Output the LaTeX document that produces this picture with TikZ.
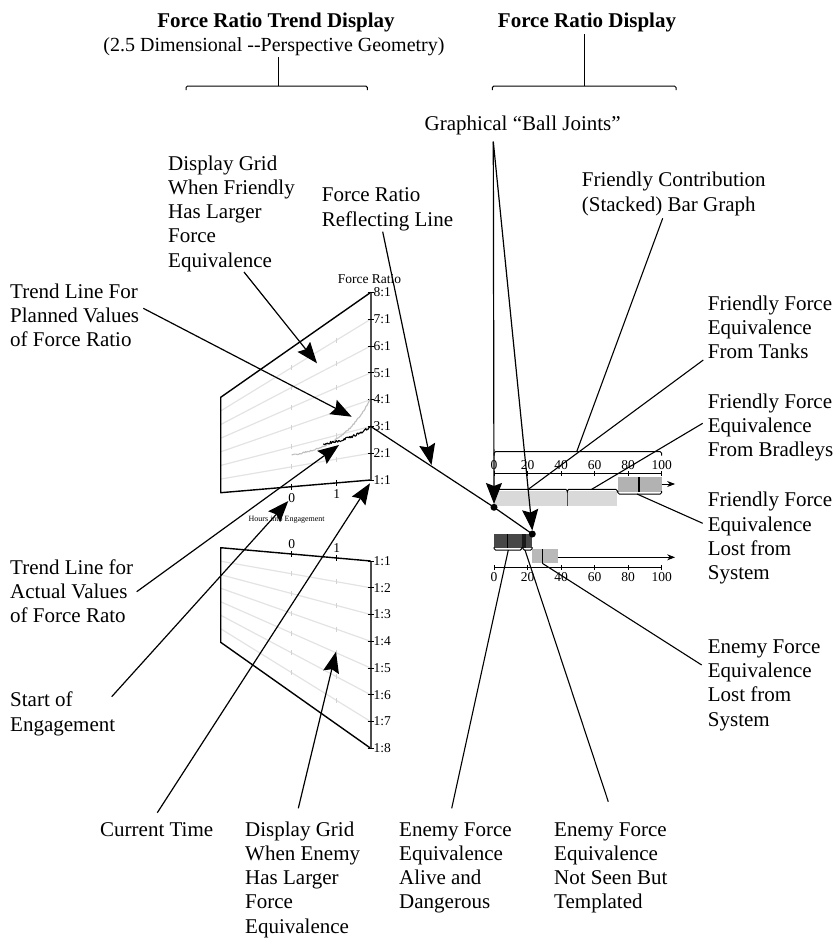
\documentclass[tikz,border=0pt]{standalone}
\usepackage{fontspec}
\setmainfont{Liberation Serif}
\usetikzlibrary{arrows.meta, positioning}

% flat bracket: x1, x2, y, hook depth
\newcommand{\hookline}[4]{%
  \draw[line width=1pt, rounded corners=1.5pt] (#1,{#3+(#4)}) |- (#2,#3) -- (#2,{#3+(#4)});}

\begin{document}
\begin{tikzpicture}[x=1pt, y=-1pt,
    lbl/.style={anchor=base west, align=left, inner sep=0pt, font=\fontsize{21}{24.3}\selectfont},
    ticklbl/.style={inner sep=0pt, font=\fontsize{13.5}{15}\selectfont},
    callout/.style={line width=1.2pt, -{Stealth[length=21pt, width=16pt, inset=3pt]}},
    leader/.style={line width=1.1pt},
    gridline/.style={gray!22, line width=1.2pt},
    frame/.style={line width=1.4pt, line join=round},
  ]
  \useasboundingbox (0,0) rectangle (837,940);

  % titles
  \node[anchor=base, inner sep=0pt, font=\fontsize{21}{24}\selectfont\bfseries] (ttlTrend) at (276,27) {Force Ratio Trend Display};
  \node[anchor=base, inner sep=0pt, font=\fontsize{20}{24}\selectfont] (subTrend) at (274,51) {(2.5 Dimensional -{}-Perspective Geometry)};
  \node[anchor=base, inner sep=0pt, font=\fontsize{21}{24}\selectfont\bfseries] (ttlRatio) at (587,27) {Force Ratio Display};
  \hookline{186}{367.3}{86}{4}
  \draw[line width=1pt] (278.3,86) -- (278.3,57);
  \hookline{492.4}{676}{86}{4}
  \draw[line width=1pt] (584.2,86) -- (584.2,34);

  % 1. upper grid (friendly larger)
  \foreach \k in {2,...,7} {
    \pgfmathsetmacro\yl{492.7-13.63*(\k-1)}
    \pgfmathsetmacro\yr{480-26.8*(\k-1)}
    \draw[gridline] (220.7,\yl) -- (370.7,\yr);
    \pgfmathsetmacro\ya{\yl+0.473*(\yr-\yl)}
    \pgfmathsetmacro\yb{\yl+0.773*(\yr-\yl)}
    \draw[gray!35, line width=0.8pt] (291.7,\ya-2.5) -- (291.7,\ya+2.5);
    \draw[gray!35, line width=0.8pt] (336.7,\yb-2.5) -- (336.7,\yb+2.5);
  }
  \draw[frame] (370.7,292.4) -- (220.7,397.3) -- (220.7,492.7) -- (370.7,480);
  \draw[line width=2pt, black!70] (370.7,292.4) -- (370.7,480);
  \foreach \k in {1,...,8} {
    \pgfmathsetmacro\yr{480-26.8*(\k-1)}
    \draw[line width=1pt] (367.5,\yr) -- (373.5,\yr);
    \node[ticklbl, anchor=west] (up\k) at (373.5,\yr) {\k:1};
  }
  \draw[line width=1pt] (291.7,483.7) -- (291.7,489.7);
  \draw[line width=1pt] (336.7,479.9) -- (336.7,485.9);
  \node[ticklbl] (upT0) at (291.7,498) {0};
  \node[ticklbl] (upT1) at (336.7,494.5) {1};
  \node[ticklbl] (axTitle) at (369.5,279) {Force Ratio};
  \node[inner sep=0pt, font=\fontsize{8}{9}\selectfont] (hours) at (286.7,519.3) {Hours into Engagement};

  % trend lines
  \pgfmathsetseed{11}
  \draw[gray!50, line width=1.1pt, line join=round] plot[domain=0:1, samples=80]
    ({291.7+78.3*\x}, {455-55.4*(exp(2.5*\x)-1)/11.18+0.8*rand});
  \draw[black, line width=1.1pt, line join=round] plot[domain=0:1, samples=60]
    ({323.3+47.4*\x}, {444-17.6*(exp(1.5*\x)-1)/3.4817+1.2*rand});

  % 2. lower grid (enemy larger)
  \foreach \k in {2,...,7} {
    \pgfmathsetmacro\yl{547.7+13.51*(\k-1)}
    \pgfmathsetmacro\yr{561+26.76*(\k-1)}
    \draw[gridline] (220.7,\yl) -- (370.7,\yr);
    \pgfmathsetmacro\ya{\yl+0.473*(\yr-\yl)}
    \pgfmathsetmacro\yb{\yl+0.773*(\yr-\yl)}
    \draw[gray!35, line width=0.8pt] (291.7,\ya-2.5) -- (291.7,\ya+2.5);
    \draw[gray!35, line width=0.8pt] (336.7,\yb-2.5) -- (336.7,\yb+2.5);
  }
  \draw[frame] (370.7,561) -- (220.7,547.7) -- (220.7,642.3) -- (370.7,748.3);
  \draw[line width=2pt, black!70] (370.7,561) -- (370.7,748.3);
  \foreach \k in {1,...,8} {
    \pgfmathsetmacro\yr{561+26.76*(\k-1)}
    \draw[line width=1pt] (367.5,\yr) -- (373.5,\yr);
    \node[ticklbl, anchor=west] (lo\k) at (373.5,\yr) {1:\k};
  }
  \draw[line width=1pt] (291.7,551) -- (291.7,557);
  \draw[line width=1pt] (336.7,555) -- (336.7,561);
  \node[ticklbl] (loT0) at (291.7,544.5) {0};
  \node[ticklbl] (loT1) at (336.7,548.3) {1};

  % 3. stacked bars (0..100 scale)
  \begin{scope}[shift={(494,0)}, x=1.677pt]
    \draw[line width=1pt] (0,473.3) -- (100,473.3);
    \foreach \v in {0,20,...,100} {
      \draw[line width=1pt] (\v,471) -- (\v,475.6);
      \node[ticklbl, anchor=base] (fx\v) at (\v,469.5) {\v};
    }
    \hookline{0}{100}{451.7}{4}
    % friendly
    \fill[gray!30] (0,490.7) rectangle (73.5,506);
    \draw[black!70, line width=1pt] (43.7,490.7) -- (43.7,506);
    \fill[gray!60] (73.8,477.3) rectangle (100,492.3);
    \draw[line width=1.2pt] (86.5,477.3) -- (86.5,492.3);
    \draw[line width=1pt, -{Stealth[length=8pt, width=6pt]}] (100,484) -- (108,484);
    \hookline{1}{43.7}{489.3}{3}
    \hookline{43.7}{73.5}{489.3}{3}
    \hookline{73.8}{100}{494}{-3}
    % enemy
    \fill[black!72] (0,534) rectangle (22.8,548.3);
    \fill[black!90] (16.9,534) rectangle (18.8,548.3);
    \draw[line width=1.2pt] (7.9,534) -- (7.9,548.3);
    \fill[gray!55] (22.8,549) rectangle (38,563.3);
    \draw[line width=1.2pt] (28.8,549) -- (28.8,563.3);
    \draw[line width=1pt, -{Stealth[length=8pt, width=6pt]}] (38,557.3) -- (108,557.3);
    \hookline{0}{16.6}{550}{-3}
    \hookline{17.2}{22.8}{550}{-3}
    \draw[line width=1pt] (0,567.7) -- (100,567.7);
    \foreach \v in {0,20,...,100} {
      \draw[line width=1pt] (\v,565.4) -- (\v,570);
      \node[ticklbl, anchor=base] (ex\v) at (\v,581.7) {\v};
    }
  \end{scope}

  % reflecting line and ball joints
  \coordinate (fr3) at (370.7,426.4);
  \coordinate (ballF) at (494,507.3);
  \coordinate (ballE) at (532.3,534);
  \draw[line width=1.2pt] (fr3) -- (ballF) -- (ballE);
  \fill (ballF) circle (3.5);
  \fill (ballE) circle (3.5);

  % labels (placed at the baseline of their last line)
  \node[lbl] (gridF) at (168,267.2) {Display Grid\\When Friendly\\Has Larger\\Force\\Equivalence};
  \node[lbl, anchor=base] (balls) at (522.7,130.7) {Graphical “Ball Joints”};
  \node[lbl] (reflect) at (321.7,226) {Force Ratio\\Reflecting Line};
  \node[lbl] (contrib) at (581.7,211) {Friendly Contribution\\(Stacked) Bar Graph};
  \node[lbl] (planned) at (10,346.9) {Trend Line For\\Planned Values\\of Force Ratio};
  \node[lbl] (tanks) at (707.7,358.6) {Friendly Force\\Equivalence\\From Tanks};
  \node[lbl] (bradleys) at (707.7,456.9) {Friendly Force\\Equivalence\\From Bradleys};
  \node[lbl] (fLost) at (707.7,579.6) {Friendly Force\\Equivalence\\Lost from\\System};
  \node[lbl] (eLost) at (707.7,726.2) {Enemy Force\\Equivalence\\Lost from\\System};
  \node[lbl] (actual) at (10,622.6) {Trend Line for\\Actual Values\\of Force Rato};
  \node[lbl] (start) at (10,731) {Start of\\Engagement};
  \node[lbl] (curTime) at (100,836) {Current Time};
  \node[lbl] (gridE) at (245,933.2) {Display Grid\\When Enemy\\Has Larger\\Force\\Equivalence};
  \node[lbl] (alive) at (399,908.9) {Enemy Force\\Equivalence\\Alive and\\Dangerous};
  \node[lbl] (templ) at (554,908.9) {Enemy Force\\Equivalence\\Not Seen But\\Templated};

  % leader ends
  \coordinate (gridFa) at (244,272);     \coordinate (gridFb) at (317,363.3);
  \coordinate (ballsA) at (493.3,141.7); \coordinate (ballFb) at (494,504);
  \coordinate (ballEb) at (532.3,530.5);
  \coordinate (reflA) at (382.7,231.7);  \coordinate (reflB) at (431.5,465);
  \coordinate (contribA) at (662.7,218.3); \coordinate (contribB) at (576.7,451.7);
  \coordinate (plannedA) at (143.3,308.3); \coordinate (plannedB) at (351.7,416.7);
  \coordinate (tanksA) at (703.3,360);   \coordinate (tanksB) at (528.3,489.3);
  \coordinate (bradA) at (702.7,423.3);  \coordinate (bradB) at (591.7,489.3);
  \coordinate (fLostA) at (702.7,523.3); \coordinate (fLostB) at (637,494);
  \coordinate (eLostA) at (701.7,665);   \coordinate (eLostB) at (542.3,563.3);
  \coordinate (actualA) at (136.7,591.7); \coordinate (actualB) at (339,445);
  \coordinate (startA) at (111.7,696.7); \coordinate (startB) at (288.3,501);
  \coordinate (curA) at (157.3,812.7);   \coordinate (curB) at (370,483.3);
  \coordinate (gridEa) at (298.3,808.3); \coordinate (gridEb) at (336,651.7);
  \coordinate (aliveA) at (451.7,808.3); \coordinate (aliveB) at (508.3,550);
  \coordinate (templA) at (608.3,801.7); \coordinate (templB) at (525,550);

  % callouts
  \draw[callout] (gridFa) -- (gridFb);
  \draw[callout] (ballsA) -- (ballFb);
  \draw[callout] (ballsA) -- (ballEb);
  \draw[callout] (reflA) -- (reflB);
  \draw[callout] (plannedA) -- (plannedB);
  \draw[callout] (actualA) -- (actualB);
  \draw[callout] (startA) -- (startB);
  \draw[callout] (curA) -- (curB);
  \draw[callout] (gridEa) -- (gridEb);
  \draw[leader] (contribA) -- (contribB);
  \draw[leader] (tanksA) -- (tanksB);
  \draw[leader] (bradA) -- (bradB);
  \draw[leader] (fLostA) -- (fLostB);
  \draw[leader] (eLostA) -- (eLostB);
  \draw[leader] (aliveA) -- (aliveB);
  \draw[leader] (templA) -- (templB);
\end{tikzpicture}
\end{document}
